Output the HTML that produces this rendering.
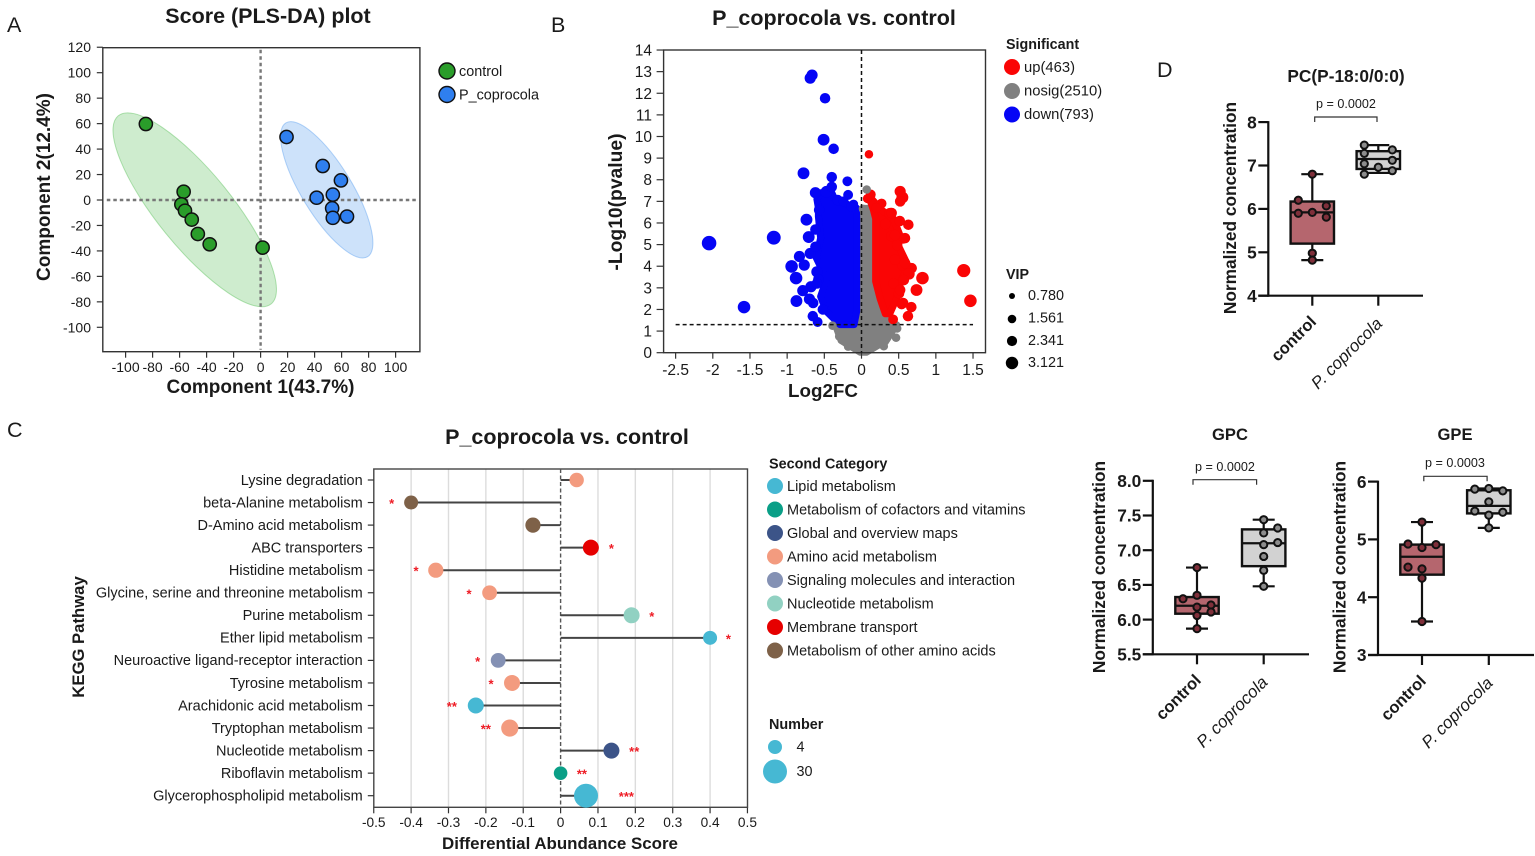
<!DOCTYPE html>
<html lang="en">
<head>
<meta charset="utf-8">
<title>P_coprocola vs. control multi-panel figure</title>
<style>
html,body{margin:0;padding:0;background:#fff;}
svg{display:block;font-family:"Liberation Sans",sans-serif;fill:#1a1a1a;}
.b{font-weight:700;}
</style>
</head>
<body>
<svg id="figure" xmlns="http://www.w3.org/2000/svg" width="1535" height="856" viewBox="0 0 1535 856">
  <rect width="1535" height="856" fill="#fff"/>

  <text x="7" y="32" font-size="21.5">A</text>
  <text x="551" y="32" font-size="21.5">B</text>
  <text x="7" y="437" font-size="21.5">C</text>
  <text x="1157" y="77" font-size="21.5">D</text>

  <!-- Panel A -->
  <g id="panelA"></g>
  <text class="b" x="268" y="23" font-size="21.5" text-anchor="middle">Score (PLS-DA) plot</text>
  <text class="b" x="260.5" y="393" font-size="19" text-anchor="middle">Component 1(43.7%)</text>
  <text class="b" transform="translate(50 187) rotate(-90)" font-size="19" text-anchor="middle">Component 2(12.4%)</text>
  <circle cx="447" cy="71" r="8" fill="#2a9d2a" stroke="#111" stroke-width="1.4"/>
  <text x="459" y="76" font-size="14.4">control</text>
  <circle cx="447" cy="94.5" r="8" fill="#2f7fef" stroke="#111" stroke-width="1.4"/>
  <text x="459" y="99.5" font-size="14.4">P_coprocola</text>

  <!-- Panel B -->
  <g id="panelB"></g>
  <text class="b" x="834" y="25" font-size="21.5" text-anchor="middle">P_coprocola vs. control</text>
  <text class="b" x="823" y="397" font-size="18.8" text-anchor="middle">Log2FC</text>
  <text class="b" transform="translate(622 202) rotate(-90)" font-size="19.3" text-anchor="middle">-Log10(pvalue)</text>
  <text class="b" x="1006" y="49" font-size="14.3">Significant</text>
  <circle cx="1012" cy="67" r="8" fill="#fa0505"/>
  <text x="1024" y="72" font-size="14.8">up(463)</text>
  <circle cx="1012" cy="91" r="8" fill="#808080"/>
  <text x="1024" y="95.5" font-size="14.8">nosig(2510)</text>
  <circle cx="1012" cy="114.5" r="8" fill="#0505f5"/>
  <text x="1024" y="119" font-size="14.8">down(793)</text>
  <text class="b" x="1006" y="279" font-size="14.3">VIP</text>
  <circle cx="1012" cy="296" r="3" fill="#000"/>
  <text x="1028" y="300" font-size="14.4">0.780</text>
  <circle cx="1012" cy="319" r="4.3" fill="#000"/>
  <text x="1028" y="322.5" font-size="14.4">1.561</text>
  <circle cx="1012" cy="341" r="5.1" fill="#000"/>
  <text x="1028" y="345" font-size="14.4">2.341</text>
  <circle cx="1012" cy="363" r="6.2" fill="#000"/>
  <text x="1028" y="367" font-size="14.4">3.121</text>

  <!-- Panel C -->
  <g id="panelC"></g>
  <text class="b" x="567" y="444" font-size="21.5" text-anchor="middle">P_coprocola vs. control</text>
  <text class="b" x="560" y="849" font-size="16.9" text-anchor="middle">Differential Abundance Score</text>
  <text class="b" transform="translate(84 637) rotate(-90)" font-size="16.7" text-anchor="middle">KEGG Pathway</text>
  <text class="b" x="769" y="468.5" font-size="14.4">Second Category</text>
  <g id="categoryLegend"></g>
  <text class="b" x="769" y="729" font-size="14.4">Number</text>
  <circle cx="775" cy="747" r="7" fill="#46b8d3"/>
  <text x="796.5" y="751.5" font-size="14.4">4</text>
  <circle cx="775" cy="771.5" r="12" fill="#46b8d3"/>
  <text x="796.5" y="776" font-size="14.4">30</text>

  <!-- Panel D box plots -->
  <g id="panelD1"></g>
  <g id="panelD2"></g>
  <g id="panelD3"></g>
  <text class="b" x="1346" y="82" font-size="17.3" text-anchor="middle">PC(P-18:0/0:0)</text>
  <text class="b" x="1230" y="440" font-size="16.6" text-anchor="middle">GPC</text>
  <text class="b" x="1455" y="440" font-size="16.6" text-anchor="middle">GPE</text>
  <text class="b" transform="translate(1236 208) rotate(-90)" font-size="17.3" text-anchor="middle">Normalized concentration</text>
  <text class="b" transform="translate(1105 567) rotate(-90)" font-size="17.3" text-anchor="middle">Normalized concentration</text>
  <text class="b" transform="translate(1345.5 567) rotate(-90)" font-size="17.3" text-anchor="middle">Normalized concentration</text>
  <text x="1346" y="108" font-size="12.6" text-anchor="middle">p = 0.0002</text>
  <text x="1225" y="471" font-size="12.6" text-anchor="middle">p = 0.0002</text>
  <text x="1455" y="467" font-size="12.6" text-anchor="middle">p = 0.0003</text>
</svg>

<script>
/* ---------- Panel A data ---------- */
const scoreTicksX = [-100,-80,-60,-40,-20,0,20,40,60,80,100];
const scoreTicksY = [-100,-80,-60,-40,-20,0,20,40,60,80,100,120];
const controlComp1 = [-85,-57,-58.7,-56,-51,-46.5,-37.7,1.5];
const controlComp2 = [59.7,6.5,-3.4,-8.4,-15.4,-26.7,-34.8,-37.4];
const coprocolaComp1 = [19.2,46,59.5,41.5,53.5,53,53.5,64];
const coprocolaComp2 = [49.5,26.7,15.4,1.8,4.2,-6.5,-14,-13];
const controlEllipseCenter = [-48.8,-7.7];
const coprocolaEllipseCenter = [49,8];

/* ---------- Panel B data ---------- */
const volcanoTicksX = [-2.5,-2,-1.5,-1,-0.5,0,0.5,1,1.5];
const volcanoTicksY = [0,1,2,3,4,5,6,7,8,9,10,11,12,13,14];
const pThreshold = 1.3;
/* isolated points readable in the picture */
const downFC = [-.665,-.69,-.49,-.51,-.375,-.78,-.40,-.19,-.18,-.107,-.62,-.47,-.40,-.32,-.74,-.71,-1.18,-2.05,-1.58,-.835,-.69,-.94,-.77,-.88,-.68,-.79,-.875,-.70,-.65,-.655,-.59,-.60,-.57,-.62,-.58,-.52,-.24,-.14,-.60,-.62];
const downP  = [12.84,12.7,11.77,9.85,9.43,8.3,8.12,7.93,7.3,6.87,7.4,7.44,7.67,7.06,6.15,5.35,5.32,5.07,2.11,4.45,4.59,3.99,4.05,3.45,3.05,2.87,2.39,2.48,2.3,1.69,1.42,3.74,6.6,4.9,3.4,2.0,7.0,6.75,3.2,5.7];
const downVIP= [2.3,2.3,2.05,2.56,2.05,2.56,2.05,1.8,1.8,1.54,2.3,2.56,2.05,2.05,2.56,2.56,3.33,3.59,2.82,2.3,2.3,2.82,2.3,2.82,2.3,2.3,2.56,2.3,2.05,2.05,1.8,2.3,2.05,2.05,2.05,2.05,1.8,1.8,2.05,2.05];
const upFC = [.1,.125,.08,.27,.52,.55,.52,.385,.515,.63,.555,.48,.675,.55,.64,.57,.82,.74,1.375,1.465,.505,.54,.67,.625,.425,.45,.40,.43,.406,.585,.45,.585,.52,.56,.32,.20];
const upP  = [9.18,7.32,7.13,6.9,7.46,7.18,7.0,6.44,6.09,5.92,5.28,4.98,3.91,4.05,3.64,3.36,3.45,2.9,3.8,2.4,2.74,2.25,2.11,1.69,1.54,4.3,5.4,3.2,6.46,5.3,5.44,4.15,2.9,2.3,5.95,6.7];
const upVIP= [1.28,1.8,1.54,1.8,2.3,2.56,2.05,2.3,2.05,2.05,2.05,2.05,2.05,2.05,2.3,2.05,2.82,2.56,3.08,2.82,2.05,2.05,2.05,2.05,1.8,2.05,2.05,2.05,2.05,2.05,2.05,2.05,2.05,2.05,2.05,1.8];
const nosigFC = [.07,.465,.32,.48,-.39,.02,-.30,-.18,.30];
const nosigP  = [7.55,.69,.5,1.12,1.25,6.65,.75,.28,.3];
const nosigVIP= [1.28,1.28,.8,1.28,1.28,1.28,1.28,1.28,1.28];
/* dense clouds: the envelope read at each -log10(p) level, too many points to read singly */
const downCoreP     = [1.3,1.9,2.6,3.4,4.4,5.3,6.3,6.7,7.1,7.4];
const downCoreLeft  = [-.29,-.47,-.55,-.47,-.61,-.55,-.58,-.58,-.60,-.55];
const downCoreRight = [-.10,-.065,-.065,-.065,-.065,-.065,-.065,-.07,-.36,-.40];
const upCoreP     = [1.8,2.5,3.3,4,5,5.5,6.2,6.6,7.1];
const upCoreLeft  = [.32,.25,.19,.19,.19,.19,.19,.16,.11];
const upCoreRight = [.38,.47,.53,.63,.49,.51,.43,.27,.14];
const nosigCoreP     = [0,.55,1.3,1.6,2.3,3.3,5,6.7];
const nosigCoreLeft  = [-.02,-.28,-.36,-.06,-.01,.0,.0,.02];
const nosigCoreRight = [.07,.34,.48,.33,.26,.17,.16,.12];

/* ---------- Panel C data ---------- */
const pathways = ["Lysine degradation","beta-Alanine metabolism","D-Amino acid metabolism","ABC transporters","Histidine metabolism","Glycine, serine and threonine metabolism","Purine metabolism","Ether lipid metabolism","Neuroactive ligand-receptor interaction","Tyrosine metabolism","Arachidonic acid metabolism","Tryptophan metabolism","Nucleotide metabolism","Riboflavin metabolism","Glycerophospholipid metabolism"];
const abundanceScore = [.043,-.40,-.074,.081,-.334,-.19,.19,.40,-.167,-.13,-.227,-.136,.136,0,.068];
const pathwayNumber = [6,5,8,10,8,7,10,5,7,10,10,13,10,4,30];
const pathwayCategory = [3,7,7,6,3,3,5,0,4,3,0,3,2,1,0];
const significance = ["","*","","*","*","*","*","*","*","*","**","**","**","**","***"];
const significanceAt = [0,-.452,0,.136,-.387,-.245,.244,.449,-.222,-.186,-.291,-.20,.197,.057,.176];
const abundanceTicks = [-.5,-.4,-.3,-.2,-.1,0,.1,.2,.3,.4,.5];
const abundanceTickLabels = ["-0.5","-0.4","-0.3","-0.2","-0.1","0","0.1","0.2","0.3","0.4","0.5"];
const categoryNames = ["Lipid metabolism","Metabolism of cofactors and vitamins","Global and overview maps","Amino acid metabolism","Signaling molecules and interaction","Nucleotide metabolism","Membrane transport","Metabolism of other amino acids"];

/* ---------- Box plot data: [min,q1,median,q3,max] ---------- */
const boxGroups = ["control","P. coprocola"];
const pcTicks = [4,5,6,7,8];
const pcControlBox = [4.82,5.2,5.92,6.17,6.8];
const pcCoprocolaBox = [6.83,6.92,7.15,7.33,7.47];
const pcControlValues = [6.8,6.2,6.07,5.9,5.92,5.81,4.98,4.82];
const pcControlColumn = [0,-1,1,-1,0,1,0,0];
const pcCoprocolaValues = [7.47,7.36,7.28,7.12,7.04,6.96,6.88,6.8];
const pcCoprocolaColumn = [-1,1,-1,1,-1,0,1,-1];
const gpcTicks = [5.5,6,6.5,7,7.5,8];
const gpcTickLabels = ["5.5","6.0","6.5","7.0","7.5","8.0"];
const gpcControlBox = [5.87,6.085,6.2,6.325,6.75];
const gpcCoprocolaBox = [6.48,6.77,7.1,7.3,7.44];
const gpcControlValues = [6.75,6.35,6.3,6.21,6.18,6.11,6.06,5.87];
const gpcControlColumn = [0,0,-1,1,0,1,0,0];
const gpcCoprocolaValues = [7.44,7.32,7.25,7.08,7.11,6.91,6.71,6.48];
const gpcCoprocolaColumn = [0,1,0,0,1,0,0,0];
const gpeTicks = [3,4,5,6];
const gpeControlBox = [3.58,4.39,4.70,4.91,5.30];
const gpeCoprocolaBox = [5.2,5.45,5.58,5.85,5.88];
const gpeControlValues = [5.30,4.92,4.91,4.86,4.52,4.49,4.33,3.58];
const gpeControlColumn = [0,-1,1,0,-1,0,0,0];
const gpeCoprocolaValues = [5.87,5.88,5.84,5.65,5.49,5.47,5.42,5.2];
const gpeCoprocolaColumn = [-1,0,1,0,-1,1,0,0];

/* ---------- helpers ---------- */
const NS = 'http://www.w3.org/2000/svg';
function add(parent, tag, attrs, text) {
  const el = document.createElementNS(NS, tag);
  for (const k in attrs) el.setAttribute(k, attrs[k]);
  if (text !== undefined) el.textContent = text;
  parent.appendChild(el);
  return el;
}
const $ = id => document.getElementById(id);

/* ---------- Panel A ---------- */
(function () {
  const g = $('panelA');
  const L = 102.8, R = 419.9, T = 47.7, B = 351.7;
  const sx = v => 260.6 + v * 1.35;
  const sy = v => 200 - v * 1.273;
  function ellipse(center, a, b, deg, fill, stroke, name) {
    const el = add(g, 'ellipse', {cx: 0, cy: 0, rx: a, ry: b,
      transform: 'translate(' + sx(center[0]) + ' ' + sy(center[1]) + ') rotate(' + deg + ')',
      fill: fill, 'fill-opacity': .3, stroke: stroke, 'stroke-opacity': .45, 'stroke-width': 1});
    
    
  }
  ellipse(controlEllipseCenter, 121.2, 37.3, 50.9, '#5cc05c', '#5cc05c', 'control-confidence-ellipse');
  ellipse(coprocolaEllipseCenter, 78.4, 25.2, 58.6, '#5b9ff0', '#5b9ff0', 'coprocola-confidence-ellipse');

  const frame = add(g, 'rect', {x: L, y: T, width: R - L, height: B - T, fill: 'none', stroke: '#333', 'stroke-width': 1.4});
  
  

  const hz = add(g, 'line', {x1: L + 4, x2: R - 2, y1: sy(0), y2: sy(0), stroke: '#777', 'stroke-width': 2.4, 'stroke-dasharray': '3.5 3'});
  
  
  const vz = add(g, 'line', {x1: sx(0), x2: sx(0), y1: T + 2, y2: B - 2, stroke: '#777', 'stroke-width': 2.4, 'stroke-dasharray': '3.5 3'});
  
  

  scoreTicksX.forEach(function (t) {
    const tick = add(g, 'line', {x1: sx(t), x2: sx(t), y1: B, y2: B + 6, stroke: '#333', 'stroke-width': 1.2});
    
    
    const lab = add(g, 'text', {x: sx(t), y: 372, 'font-size': 14, 'text-anchor': 'middle'}, String(t));
    
    
  });
  scoreTicksY.forEach(function (t) {
    const tick = add(g, 'line', {x1: L - 6, x2: L, y1: sy(t), y2: sy(t), stroke: '#333', 'stroke-width': 1.2});
    
    
    const lab = add(g, 'text', {x: 91, y: sy(t) + 5, 'font-size': 14, 'text-anchor': 'end'}, String(t));
    
    
  });
  controlComp1.forEach(function (v, i) {
    const p = add(g, 'circle', {cx: sx(v), cy: sy(controlComp2[i]), r: 6.6, fill: '#2a9d2a', stroke: '#111', 'stroke-width': 1.5});
    
    
  });
  coprocolaComp1.forEach(function (v, i) {
    const p = add(g, 'circle', {cx: sx(v), cy: sy(coprocolaComp2[i]), r: 6.6, fill: '#2f7fef', stroke: '#111', 'stroke-width': 1.5});
    
    
  });
})();

/* ---------- Panel B ---------- */
(function () {
  const g = $('panelB');
  const L = 663.6, R = 985.5, T = 50, B = 352.7;
  const sx = v => 861.5 + v * 74.35;
  const sy = v => 352.7 - v * 21.62;
  const sr = v => 2.6 + 1.3 * v;
  function corePath(levels, left, right) {
    const pts = [];
    levels.forEach(function (p, i) { pts.push(sx(left[i]) + ',' + sy(p)); });
    for (let i = levels.length - 1; i >= 0; i--) pts.push(sx(right[i]) + ',' + sy(levels[i]));
    return 'M' + pts.join('L') + 'Z';
  }
  const grayCore = add(g, 'path', {d: corePath(nosigCoreP, nosigCoreLeft, nosigCoreRight), fill: '#808080', stroke: '#808080', 'stroke-width': 6, 'stroke-linejoin': 'round'});
  
  
  const blueCore = add(g, 'path', {d: corePath(downCoreP, downCoreLeft, downCoreRight), fill: '#0505f5', stroke: '#0505f5', 'stroke-width': 7, 'stroke-linejoin': 'round'});
  
  
  const redCore = add(g, 'path', {d: corePath(upCoreP, upCoreLeft, upCoreRight), fill: '#fa0505', stroke: '#fa0505', 'stroke-width': 7, 'stroke-linejoin': 'round'});
  
  

  downFC.forEach(function (v, i) {
    const p = add(g, 'circle', {cx: sx(v), cy: sy(downP[i]), r: sr(downVIP[i]), fill: '#0505f5'});
    
    
  });
  upFC.forEach(function (v, i) {
    const p = add(g, 'circle', {cx: sx(v), cy: sy(upP[i]), r: sr(upVIP[i]), fill: '#fa0505'});
    
    
  });
  nosigFC.forEach(function (v, i) {
    const p = add(g, 'circle', {cx: sx(v), cy: sy(nosigP[i]), r: sr(nosigVIP[i]), fill: '#808080'});
    
    
  });

  const frame = add(g, 'rect', {x: L, y: T, width: R - L, height: B - T, fill: 'none', stroke: '#333', 'stroke-width': 1.4});
  
  
  const th = add(g, 'line', {x1: sx(-2.5), x2: sx(1.5), y1: sy(pThreshold), y2: sy(pThreshold), stroke: '#111', 'stroke-width': 1.5, 'stroke-dasharray': '4 3'});
  
  
  const zero = add(g, 'line', {x1: sx(0), x2: sx(0), y1: T, y2: B, stroke: '#111', 'stroke-width': 1.5, 'stroke-dasharray': '4 3'});
  
  

  volcanoTicksX.forEach(function (t) {
    const tick = add(g, 'line', {x1: sx(t), x2: sx(t), y1: B, y2: B + 6, stroke: '#333', 'stroke-width': 1.2});
    
    
    const lab = add(g, 'text', {x: sx(t), y: 375, 'font-size': 15.5, 'text-anchor': 'middle'}, String(t));
    
    
  });
  volcanoTicksY.forEach(function (t) {
    const tick = add(g, 'line', {x1: L - 7, x2: L, y1: sy(t), y2: sy(t), stroke: '#333', 'stroke-width': 1.2});
    
    
    const lab = add(g, 'text', {x: 652, y: sy(t) + 5.5, 'font-size': 15.5, 'text-anchor': 'end'}, String(t));
    
    
  });
})();

/* ---------- Panel C ---------- */
(function () {
  const g = $('panelC');
  const palette = ['#46b8d3','#0a9f87','#3c5488','#f39b7f','#8491b4','#91d1c2','#e60000','#7e6148'];
  const L = 373.8, R = 747.5, T = 469, B = 807.3;
  const sx = v => 560.6 + v * 373.7;
  const sy = i => 480 + i * 22.55;
  const sr = n => 6.8 + (n - 4) * 0.2;

  abundanceTicks.forEach(function (t, i) {
    if (t !== 0 && Math.abs(t) !== .5) {
      const grid = add(g, 'line', {x1: sx(t), x2: sx(t), y1: T, y2: B, stroke: '#dcdcdc', 'stroke-width': 1.4});
      
      
    }
    const tick = add(g, 'line', {x1: sx(t), x2: sx(t), y1: B, y2: B + 6, stroke: '#333', 'stroke-width': 1.2});
    
    
    const lab = add(g, 'text', {x: sx(t), y: 827, 'font-size': 13.7, 'text-anchor': 'middle'}, abundanceTickLabels[i]);
    
    
  });
  const frame = add(g, 'rect', {x: L, y: T, width: R - L, height: B - T, fill: 'none', stroke: '#444', 'stroke-width': 1.4});
  
  
  const zero = add(g, 'line', {x1: sx(0), x2: sx(0), y1: T, y2: B, stroke: '#555', 'stroke-width': 1.4, 'stroke-dasharray': '4 2.5'});
  
  

  pathways.forEach(function (name, i) {
    const tick = add(g, 'line', {x1: L - 6, x2: L, y1: sy(i), y2: sy(i), stroke: '#333', 'stroke-width': 1.2});
    
    
    const lab = add(g, 'text', {x: 362.7, y: sy(i) + 4.8, 'font-size': 14.5, 'text-anchor': 'end'}, name);
    
    
    const stem = add(g, 'line', {x1: sx(0), x2: sx(abundanceScore[i]), y1: sy(i), y2: sy(i), stroke: '#444', 'stroke-width': 2});
    
    
    const dot = add(g, 'circle', {cx: sx(abundanceScore[i]), cy: sy(i), r: sr(pathwayNumber[i]), fill: palette[pathwayCategory[i]]});
    
    
    if (significance[i]) {
      const star = add(g, 'text', {x: sx(significanceAt[i]), y: sy(i) + 5.5, 'font-size': 13, 'font-weight': 700, 'text-anchor': 'middle', fill: '#ee1c25'}, significance[i]);
      
      
    }
  });
  const lg = $('categoryLegend');
  categoryNames.forEach(function (name, i) {
    const y = 486 + i * 23.5;
    const m = add(lg, 'circle', {cx: 775, cy: y, r: 8, fill: palette[i]});
    
    
    const t = add(lg, 'text', {x: 787, y: y + 4.8, 'font-size': 14.5}, name);
    
    
  });
})();

/* ---------- Box plots ---------- */
function boxPlot(opts) {
  const g = $(opts.target);
  const sy = v => opts.y0 - (v - opts.v0) * opts.pxPerUnit;
  const ax = opts.axisX, end = opts.axisEnd, base = sy(opts.v0);
  const yAxis = add(g, 'line', {x1: ax, x2: ax, y1: sy(opts.ticks[opts.ticks.length - 1]) - 1, y2: base + 1, stroke: '#111', 'stroke-width': 2.2});
  
  
  const xAxis = add(g, 'line', {x1: ax - 10, x2: end, y1: base, y2: base, stroke: '#111', 'stroke-width': 2.2});
  
  
  opts.ticks.forEach(function (t, i) {
    const tick = add(g, 'line', {x1: ax - 10, x2: ax, y1: sy(t), y2: sy(t), stroke: '#111', 'stroke-width': 2.2});
    
    
    const lab = add(g, 'text', {x: ax - 11.5, y: sy(t) + 6.2, 'font-size': 17.3, 'font-weight': 700, 'text-anchor': 'end'}, opts.tickLabels[i]);
    
    
  });
  boxGroups.forEach(function (group, k) {
    const cx = opts.centers[k];
    const tick = add(g, 'line', {x1: cx, x2: cx, y1: base, y2: base + 10, stroke: '#111', 'stroke-width': 2.2});
    
    
    const ex = cx + 5, ey = base + (k ? 29 : 27);
    const lab = add(g, 'text', {x: ex, y: ey, 'font-size': k ? 17 : 16.5, 'font-weight': k ? 400 : 700, 'font-style': k ? 'italic' : 'normal', 'text-anchor': 'end', transform: 'rotate(-45 ' + ex + ' ' + ey + ')'}, group);
    
    

    const s = k ? opts.coprocolaBox : opts.controlBox;
    const boxFill = k ? '#d2d2d2' : '#b5666e';
    const ptFill = k ? '#8c8c8c' : '#7f2f3a';
    const hw = 21.7, cap = 11;
    const whisker = add(g, 'line', {x1: cx, x2: cx, y1: sy(s[0]), y2: sy(s[4]), stroke: '#111', 'stroke-width': 2.2});
    
    
    [s[0], s[4]].forEach(function (v) {
      const c = add(g, 'line', {x1: cx - cap, x2: cx + cap, y1: sy(v), y2: sy(v), stroke: '#111', 'stroke-width': 2.2});
      
      
    });
    const rect = add(g, 'rect', {x: cx - hw, y: sy(s[3]), width: hw * 2, height: sy(s[1]) - sy(s[3]), fill: boxFill, stroke: '#111', 'stroke-width': 2.4});
    
    
    const med = add(g, 'line', {x1: cx - hw, x2: cx + hw, y1: sy(s[2]), y2: sy(s[2]), stroke: '#111', 'stroke-width': 2.2});
    
    
    const vals = k ? opts.coprocolaValues : opts.controlValues;
    const cols = k ? opts.coprocolaColumn : opts.controlColumn;
    vals.forEach(function (v, i) {
      const p = add(g, 'circle', {cx: cx + cols[i] * 14, cy: sy(v), r: 3.6, fill: ptFill, stroke: '#111', 'stroke-width': 2});
      
      
    });
  });
  const bx1 = opts.bracket[0], bx2 = opts.bracket[1], by = opts.bracket[2];
  const br = add(g, 'path', {d: 'M' + bx1 + ' ' + (by + 5) + 'V' + by + 'H' + bx2 + 'V' + (by + 5), fill: 'none', stroke: '#333', 'stroke-width': 1.2});
  
  
}
boxPlot({target: 'panelD1', v0: 4, y0: 295.7, pxPerUnit: 43.4, axisX: 1268.3, axisEnd: 1423,
  ticks: pcTicks, tickLabels: pcTicks.map(String), centers: [1312.3, 1378.3], bracket: [1314.7, 1377, 117],
  controlBox: pcControlBox, coprocolaBox: pcCoprocolaBox,
  controlValues: pcControlValues, controlColumn: pcControlColumn,
  coprocolaValues: pcCoprocolaValues, coprocolaColumn: pcCoprocolaColumn});
boxPlot({target: 'panelD2', v0: 5.5, y0: 654.3, pxPerUnit: 69.4, axisX: 1152.8, axisEnd: 1309,
  ticks: gpcTicks, tickLabels: gpcTickLabels, centers: [1197, 1263.7], bracket: [1193, 1256.6, 479.7],
  controlBox: gpcControlBox, coprocolaBox: gpcCoprocolaBox,
  controlValues: gpcControlValues, controlColumn: gpcControlColumn,
  coprocolaValues: gpcCoprocolaValues, coprocolaColumn: gpcCoprocolaColumn});
boxPlot({target: 'panelD3', v0: 3, y0: 655, pxPerUnit: 57.8, axisX: 1378, axisEnd: 1534,
  ticks: gpeTicks, tickLabels: gpeTicks.map(String), centers: [1422, 1488.8], bracket: [1423.8, 1487.1, 476.3],
  controlBox: gpeControlBox, coprocolaBox: gpeCoprocolaBox,
  controlValues: gpeControlValues, controlColumn: gpeControlColumn,
  coprocolaValues: gpeCoprocolaValues, coprocolaColumn: gpeCoprocolaColumn});
</script>
</body>
</html>
